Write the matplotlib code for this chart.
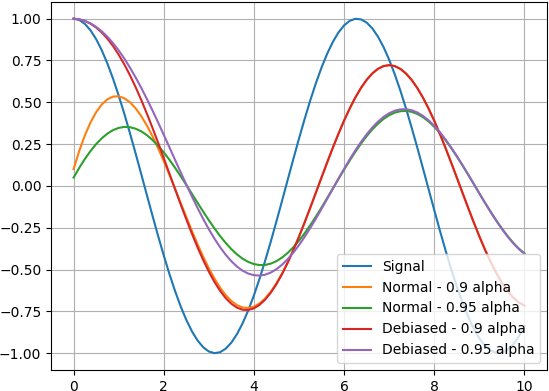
import matplotlib
matplotlib.use("Agg")
import matplotlib.pyplot as plt

# sample positions along the x axis (every 0.125)
x_vals = [0.0, 0.125, 0.25, 0.375, 0.5, 0.625, 0.75, 0.875, 1.0, 1.125,
          1.25, 1.375, 1.5, 1.625, 1.75, 1.875, 2.0, 2.125, 2.25, 2.375,
          2.5, 2.625, 2.75, 2.875, 3.0, 3.125, 3.25, 3.375, 3.5, 3.625,
          3.75, 3.875, 4.0, 4.125, 4.25, 4.375, 4.5, 4.625, 4.75, 4.875,
          5.0, 5.125, 5.25, 5.375, 5.5, 5.625, 5.75, 5.875, 6.0, 6.125,
          6.25, 6.375, 6.5, 6.625, 6.75, 6.875, 7.0, 7.125, 7.25, 7.375,
          7.5, 7.625, 7.75, 7.875, 8.0, 8.125, 8.25, 8.375, 8.5, 8.625,
          8.75, 8.875, 9.0, 9.125, 9.25, 9.375, 9.5, 9.625, 9.75, 9.875,
          10.0]

signal = [1.0000, 0.9922, 0.9689, 0.9305, 0.8776, 0.8110, 0.7317, 0.6410, 0.5403, 0.4312,
          0.3153, 0.1946, 0.0707, -0.0542, -0.1782, -0.2995, -0.4161, -0.5263, -0.6282, -0.7203,
          -0.8011, -0.8695, -0.9243, -0.9647, -0.9900, -0.9999, -0.9941, -0.9729, -0.9365, -0.8854,
          -0.8206, -0.7429, -0.6536, -0.5542, -0.4461, -0.3310, -0.2108, -0.0873, 0.0376, 0.1619,
          0.2837, 0.4010, 0.5121, 0.6152, 0.7087, 0.7911, 0.8612, 0.9178, 0.9602, 0.9875,
          0.9994, 0.9958, 0.9766, 0.9422, 0.8930, 0.8299, 0.7539, 0.6661, 0.5679, 0.4609,
          0.3466, 0.2270, 0.1038, -0.0210, -0.1455, -0.2677, -0.3857, -0.4978, -0.6020, -0.6969,
          -0.7808, -0.8526, -0.9111, -0.9554, -0.9848, -0.9988, -0.9972, -0.9800, -0.9476, -0.9004,
          -0.8391]

normal_09 = [0.1000, 0.2093, 0.3024, 0.3797, 0.4412, 0.4872, 0.5180, 0.5341, 0.5360, 0.5244,
             0.5002, 0.4642, 0.4175, 0.3612, 0.2967, 0.2251, 0.1480, 0.0668, -0.0171, -0.1020,
             -0.1866, -0.2694, -0.3489, -0.4238, -0.4927, -0.5547, -0.6085, -0.6533, -0.6884, -0.7131,
             -0.7270, -0.7299, -0.7216, -0.7023, -0.6722, -0.6318, -0.5817, -0.5226, -0.4555, -0.3815,
             -0.3015, -0.2169, -0.1290, -0.0392, 0.0513, 0.1408, 0.2281, 0.3119, 0.3907, 0.4634,
             0.5288, 0.5860, 0.6340, 0.6721, 0.6997, 0.7164, 0.7219, 0.7161, 0.6991, 0.6712,
             0.6328, 0.5846, 0.5272, 0.4616, 0.3887, 0.3098, 0.2261, 0.1389, 0.0494, -0.0408,
             -0.1303, -0.2179, -0.3020, -0.3814, -0.4549, -0.5213, -0.5795, -0.6287, -0.6681, -0.6971,
             -0.7152]

normal_095 = [0.0500, 0.1080, 0.1611, 0.2087, 0.2501, 0.2850, 0.3130, 0.3337, 0.3470, 0.3529,
              0.3512, 0.3423, 0.3264, 0.3037, 0.2748, 0.2402, 0.2005, 0.1564, 0.1087, 0.0583,
              0.0059, -0.0476, -0.1012, -0.1541, -0.2054, -0.2542, -0.2998, -0.3413, -0.3782, -0.4097,
              -0.4354, -0.4546, -0.4672, -0.4733, -0.4724, -0.4644, -0.4495, -0.4280, -0.4001, -0.3663,
              -0.3270, -0.2829, -0.2346, -0.1830, -0.1287, -0.0726, -0.0155, 0.0416, 0.0979, 0.1524,
              0.2045, 0.2532, 0.2978, 0.3377, 0.3722, 0.4007, 0.4229, 0.4384, 0.4470, 0.4485,
              0.4429, 0.4303, 0.4110, 0.3851, 0.3532, 0.3158, 0.2733, 0.2265, 0.1761, 0.1230,
              0.0679, 0.0117, -0.0448, -0.1006, -0.1548, -0.2066, -0.2553, -0.3000, -0.3400, -0.3748,
              -0.4037]

debiased_09 = [1.0000, 0.9963, 0.9864, 0.9702, 0.9472, 0.9173, 0.8804, 0.8362, 0.7849, 0.7267,
               0.6619, 0.5909, 0.5143, 0.4327, 0.3470, 0.2580, 0.1666, 0.0741, -0.0187, -0.1104,
               -0.1999, -0.2860, -0.3677, -0.4437, -0.5129, -0.5745, -0.6275, -0.6712, -0.7049, -0.7281,
               -0.7403, -0.7416, -0.7317, -0.7109, -0.6794, -0.6378, -0.5865, -0.5264, -0.4585, -0.3836,
               -0.3030, -0.2178, -0.1295, -0.0393, 0.0514, 0.1412, 0.2286, 0.3125, 0.3914, 0.4641,
               0.5295, 0.5867, 0.6347, 0.6727, 0.7003, 0.7169, 0.7223, 0.7164, 0.6994, 0.6715,
               0.6330, 0.5847, 0.5273, 0.4617, 0.3888, 0.3099, 0.2262, 0.1389, 0.0494, -0.0408,
               -0.1304, -0.2179, -0.3020, -0.3815, -0.4549, -0.5213, -0.5795, -0.6287, -0.6681, -0.6971,
               -0.7152]

debiased_095 = [1.0000, 0.9956, 0.9866, 0.9718, 0.9509, 0.9245, 0.8920, 0.8539, 0.8103, 0.7614,
                0.7075, 0.6491, 0.5865, 0.5202, 0.4509, 0.3791, 0.3056, 0.2310, 0.1560, 0.0814,
                0.0080, -0.0635, -0.1323, -0.1978, -0.2590, -0.3155, -0.3667, -0.4118, -0.4506, -0.4825,
                -0.5071, -0.5242, -0.5337, -0.5360, -0.5307, -0.5178, -0.4977, -0.4707, -0.4373, -0.3981,
                -0.3535, -0.3043, -0.2512, -0.1951, -0.1366, -0.0767, -0.0164, 0.0437, 0.1025, 0.1592,
                0.2130, 0.2630, 0.3087, 0.3492, 0.3840, 0.4127, 0.4347, 0.4499, 0.4579, 0.4588,
                0.4524, 0.4390, 0.4187, 0.3920, 0.3591, 0.3207, 0.2773, 0.2296, 0.1784, 0.1245,
                0.0686, 0.0118, -0.0452, -0.1015, -0.1561, -0.2083, -0.2573, -0.3022, -0.3423, -0.3772,
                -0.4061]

labels = ["Signal", "Normal - 0.9 alpha", "Normal - 0.95 alpha",
          "Debiased - 0.9 alpha", "Debiased - 0.95 alpha"]

fig, ax = plt.subplots(figsize=(5.49, 3.91), dpi=100)

ax.plot(x_vals, signal, label=labels[0])
ax.plot(x_vals, normal_09, label=labels[1])
ax.plot(x_vals, normal_095, label=labels[2])
ax.plot(x_vals, debiased_09, label=labels[3])
ax.plot(x_vals, debiased_095, label=labels[4])

ax.grid(True)
ax.legend(loc="lower right")

plt.subplots_adjust(left=0.093, right=0.9964, bottom=0.054, top=0.995)

plt.savefig("out.png", dpi=100)
